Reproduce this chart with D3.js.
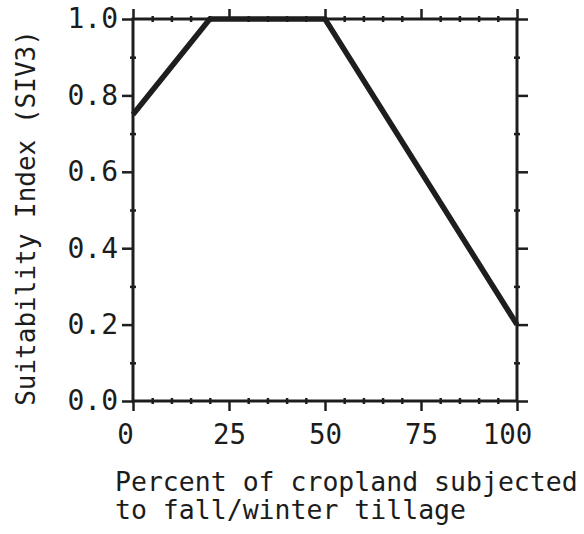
<!DOCTYPE html>
<html>
<head>
<meta charset="utf-8">
<script src="https://cdn.jsdelivr.net/npm/d3@7"></script>
<style>
  body { margin: 0; background: #fff; }
  text { font-family: "DejaVu Sans Mono", "Liberation Mono", monospace; fill: #1c1c1c; }
</style>
</head>
<body>
<div id="chart"></div>
<script>
// Data
const tillage = [0, 20, 50, 100];
const siv = [0.75, 1.0, 1.0, 0.2];
const xTicks = [0, 25, 50, 75, 100];
const yTicks = [0.0, 0.2, 0.4, 0.6, 0.8, 1.0];

const width = 584, height = 534;
const margin = {left: 133, right: 67, top: 19, bottom: 133};

const svg = d3.select("#chart").append("svg")
    .attr("width", width)
    .attr("height", height);

const x = d3.scaleLinear().domain([0, 100]).range([margin.left, width - margin.right]);
const y = d3.scaleLinear().domain([0, 1]).range([height - margin.bottom, margin.top]);

const ink = "#1e1e1e";

// minor ticks (every 5 on x, every 0.1 on y), small and crossing the frame
const xMinor = d3.range(0, 101, 5).filter(d => d % 25 !== 0);
const yMinor = d3.range(1, 10, 2).map(d => d / 10);

function styleAxis(g) {
    g.select(".domain").remove();
    g.selectAll("line").attr("stroke", ink).attr("stroke-width", 2.5);
}

// bottom
svg.append("g")
    .attr("transform", `translate(0,${y(0)})`)
    .call(d3.axisBottom(x).tickValues(xTicks).tickSize(10).tickPadding(13).tickFormat(d3.format("d")))
    .call(styleAxis)
    .call(g => g.selectAll("text")
        .attr("font-size", 27.5)
        .attr("fill", "#1c1c1c")
        .attr("dx", d => d === 0 ? -8 : d === 100 ? -10 : 0));
svg.append("g")
    .attr("transform", `translate(0,${y(0) - 3})`)
    .call(d3.axisBottom(x).tickValues(xMinor).tickSize(6).tickFormat(""))
    .call(styleAxis);

// top
svg.append("g")
    .attr("transform", `translate(0,${y(1)})`)
    .call(d3.axisTop(x).tickValues(xTicks).tickSize(10).tickFormat(""))
    .call(styleAxis);
svg.append("g")
    .attr("transform", `translate(0,${y(1) + 3})`)
    .call(d3.axisTop(x).tickValues(xMinor).tickSize(6).tickFormat(""))
    .call(styleAxis);

// left
svg.append("g")
    .attr("transform", `translate(${x(0)},0)`)
    .call(d3.axisLeft(y).tickValues(yTicks).tickSize(11).tickPadding(4).tickFormat(d3.format(".1f")))
    .call(styleAxis)
    .call(g => g.selectAll("text").attr("font-size", 28).attr("fill", "#1c1c1c"));
svg.append("g")
    .attr("transform", `translate(${x(0) + 3},0)`)
    .call(d3.axisLeft(y).tickValues(yMinor).tickSize(6).tickFormat(""))
    .call(styleAxis);

// right
svg.append("g")
    .attr("transform", `translate(${x(100)},0)`)
    .call(d3.axisRight(y).tickValues(yTicks).tickSize(11).tickFormat(""))
    .call(styleAxis);
svg.append("g")
    .attr("transform", `translate(${x(100) - 3},0)`)
    .call(d3.axisRight(y).tickValues(yMinor).tickSize(6).tickFormat(""))
    .call(styleAxis);

// frame
svg.append("rect")
    .attr("x", x(0)).attr("y", y(1))
    .attr("width", x(100) - x(0)).attr("height", y(0) - y(1))
    .attr("fill", "none").attr("stroke", ink).attr("stroke-width", 3);

// curve
const line = d3.line().x(d => x(d[0])).y(d => y(d[1]));
svg.append("path")
    .datum(d3.zip(tillage, siv))
    .attr("d", line)
    .attr("fill", "none")
    .attr("stroke", ink)
    .attr("stroke-width", 5.5)
    .attr("stroke-linejoin", "miter");

// axis titles
svg.append("text")
    .attr("transform", `translate(35,${(y(0) + y(1)) / 2 + 8}) rotate(-90)`)
    .attr("text-anchor", "middle")
    .attr("font-size", 26)
    .text("Suitability Index (SIV3)");

svg.append("text")
    .attr("x", 115).attr("y", 491)
    .attr("font-size", 26.5)
    .text("Percent of cropland subjected");
svg.append("text")
    .attr("x", 115).attr("y", 519)
    .attr("font-size", 26.5)
    .text("to fall/winter tillage");
</script>
</body>
</html>
